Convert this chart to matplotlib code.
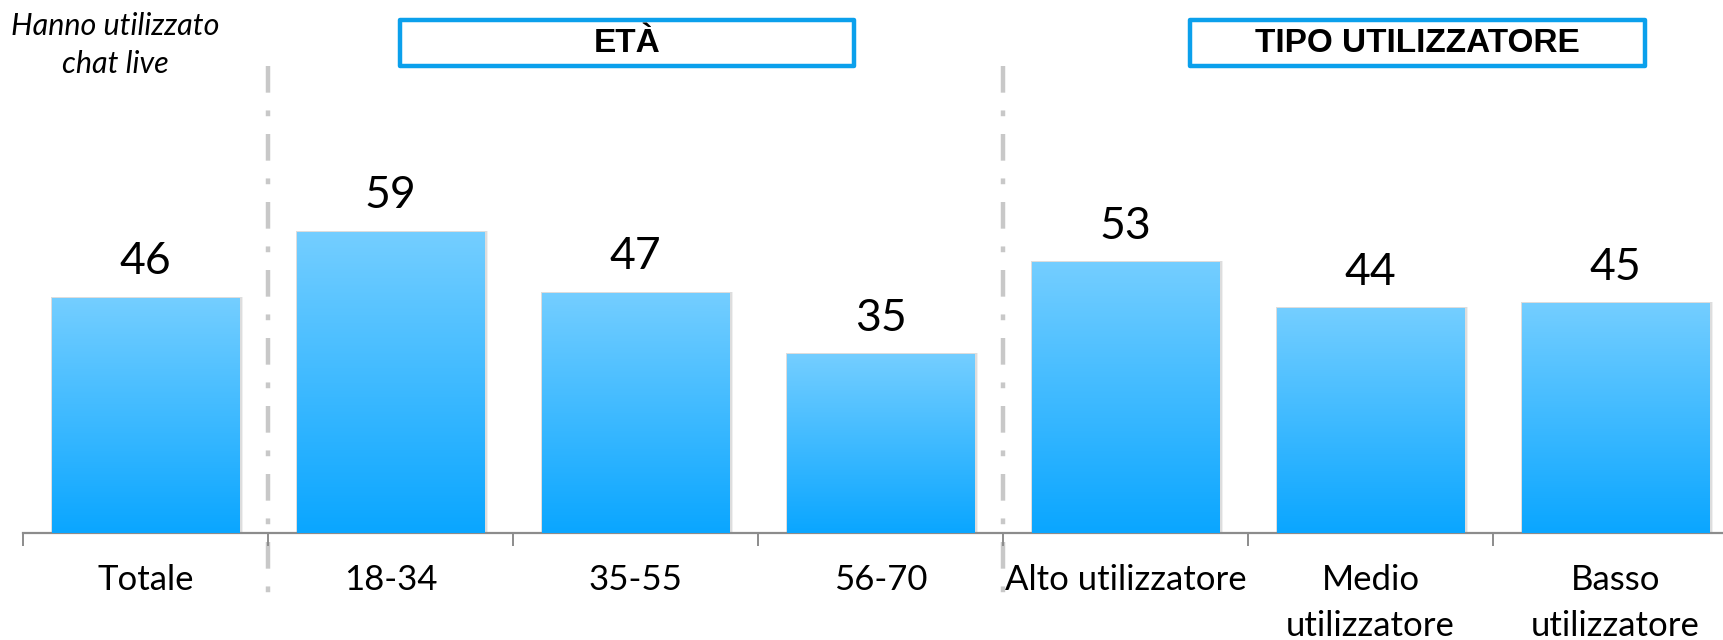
import numpy as np
import matplotlib
matplotlib.use("Agg")
import matplotlib.pyplot as plt
from matplotlib.patches import Rectangle
from matplotlib.transforms import blended_transform_factory
from matplotlib.colors import LinearSegmentedColormap

# Data
categories = ["Totale", "18-34", "35-55", "56-70",
              "Alto utilizzatore", "Medio\nutilizzatore", "Basso\nutilizzatore"]
values = [46, 59, 47, 35, 53, 44, 45]
group_titles = ["ETÀ", "TIPO UTILIZZATORE"]
note = "Hanno utilizzato\nchat live"

W, H = 1723, 640
fig = plt.figure(figsize=(W / 100, H / 100), dpi=100)
plt.rcParams["font.family"] = ["Lato", "DejaVu Sans"]

ax = fig.add_axes([23 / W, (H - 533) / H, 1715 / W, 510 / H])
ax.set_xlim(-0.5, len(categories) - 0.5)
ax.set_ylim(0, 100)

x = np.arange(len(categories))
bars = ax.bar(x, values, width=0.767, color="none", edgecolor="none", zorder=2)

grad = LinearSegmentedColormap.from_list("blue", ["#0AA6FF", "#74CEFF"])
gimg = np.linspace(0, 1, 256).reshape(-1, 1)
for b in bars:
    x0, w, h = b.get_x(), b.get_width(), b.get_height()
    # soft shadow behind each bar
    for k, a in [(0.012, 0.06), (0.007, 0.08)]:
        ax.add_patch(Rectangle((x0 - k * 0.3, 0), w + k * 1.6, h + 0.25,
                               facecolor="#000000", alpha=a, edgecolor="none",
                               zorder=1))
    ax.imshow(gimg, cmap=grad, origin="lower", aspect="auto",
              extent=(x0, x0 + w, 0, h), zorder=3, interpolation="bilinear")
    ax.text(b.get_x() + w / 2, h + 4.7, f"{int(h)}", ha="center", va="baseline",
            fontsize=32, color="#000000", zorder=4)

# Axis styling
for s in ["top", "right", "left"]:
    ax.spines[s].set_visible(False)
ax.spines["bottom"].set_color("#8C8C8C")
ax.spines["bottom"].set_linewidth(1.6)
ax.set_yticks([])
ax.set_xticks(x)
ax.set_xticklabels(categories, fontsize=25, linespacing=1.55)
ax.tick_params(axis="x", which="major", length=0, pad=22)
ax.set_xticks(np.arange(-0.5, len(categories), 1.0), minor=True)
ax.tick_params(axis="x", which="minor", length=9.5, width=1.4, color="#8C8C8C")

# Group separators
tr = blended_transform_factory(ax.transData, fig.transFigure)
for sx in [0.5, 3.5]:
    ax.plot([sx, sx], [1 - 66 / H, 1 - 606 / H], transform=tr, color="#C8C8C8",
            lw=3.2, linestyle=(0, (6.0, 4.0, 1.3, 4.0)), clip_on=False, zorder=0,
            solid_capstyle="butt", dash_capstyle="butt")

# Group title boxes
for title, (bx0, bx1) in zip(group_titles, [(400, 854), (1190, 1645)]):
    by0, by1 = 20, 66
    fig.patches.append(Rectangle((bx0 / W, 1 - by1 / H), (bx1 - bx0) / W,
                                 (by1 - by0) / H, transform=fig.transFigure,
                                 facecolor="white", edgecolor="#0BA0EC",
                                 linewidth=3.2, joinstyle="round"))
    fig.text((bx0 + bx1) / 2 / W, 1 - (by0 + by1) / 2 / H, title,
             ha="center", va="center", fontsize=24, fontweight="bold",
             family="Liberation Sans", color="#000000")

fig.text(115 / W, 1 - 45 / H, note, ha="center", va="center", fontsize=22,
         style="italic", linespacing=1.45, color="#000000")

fig.savefig("out.png", dpi=100)
